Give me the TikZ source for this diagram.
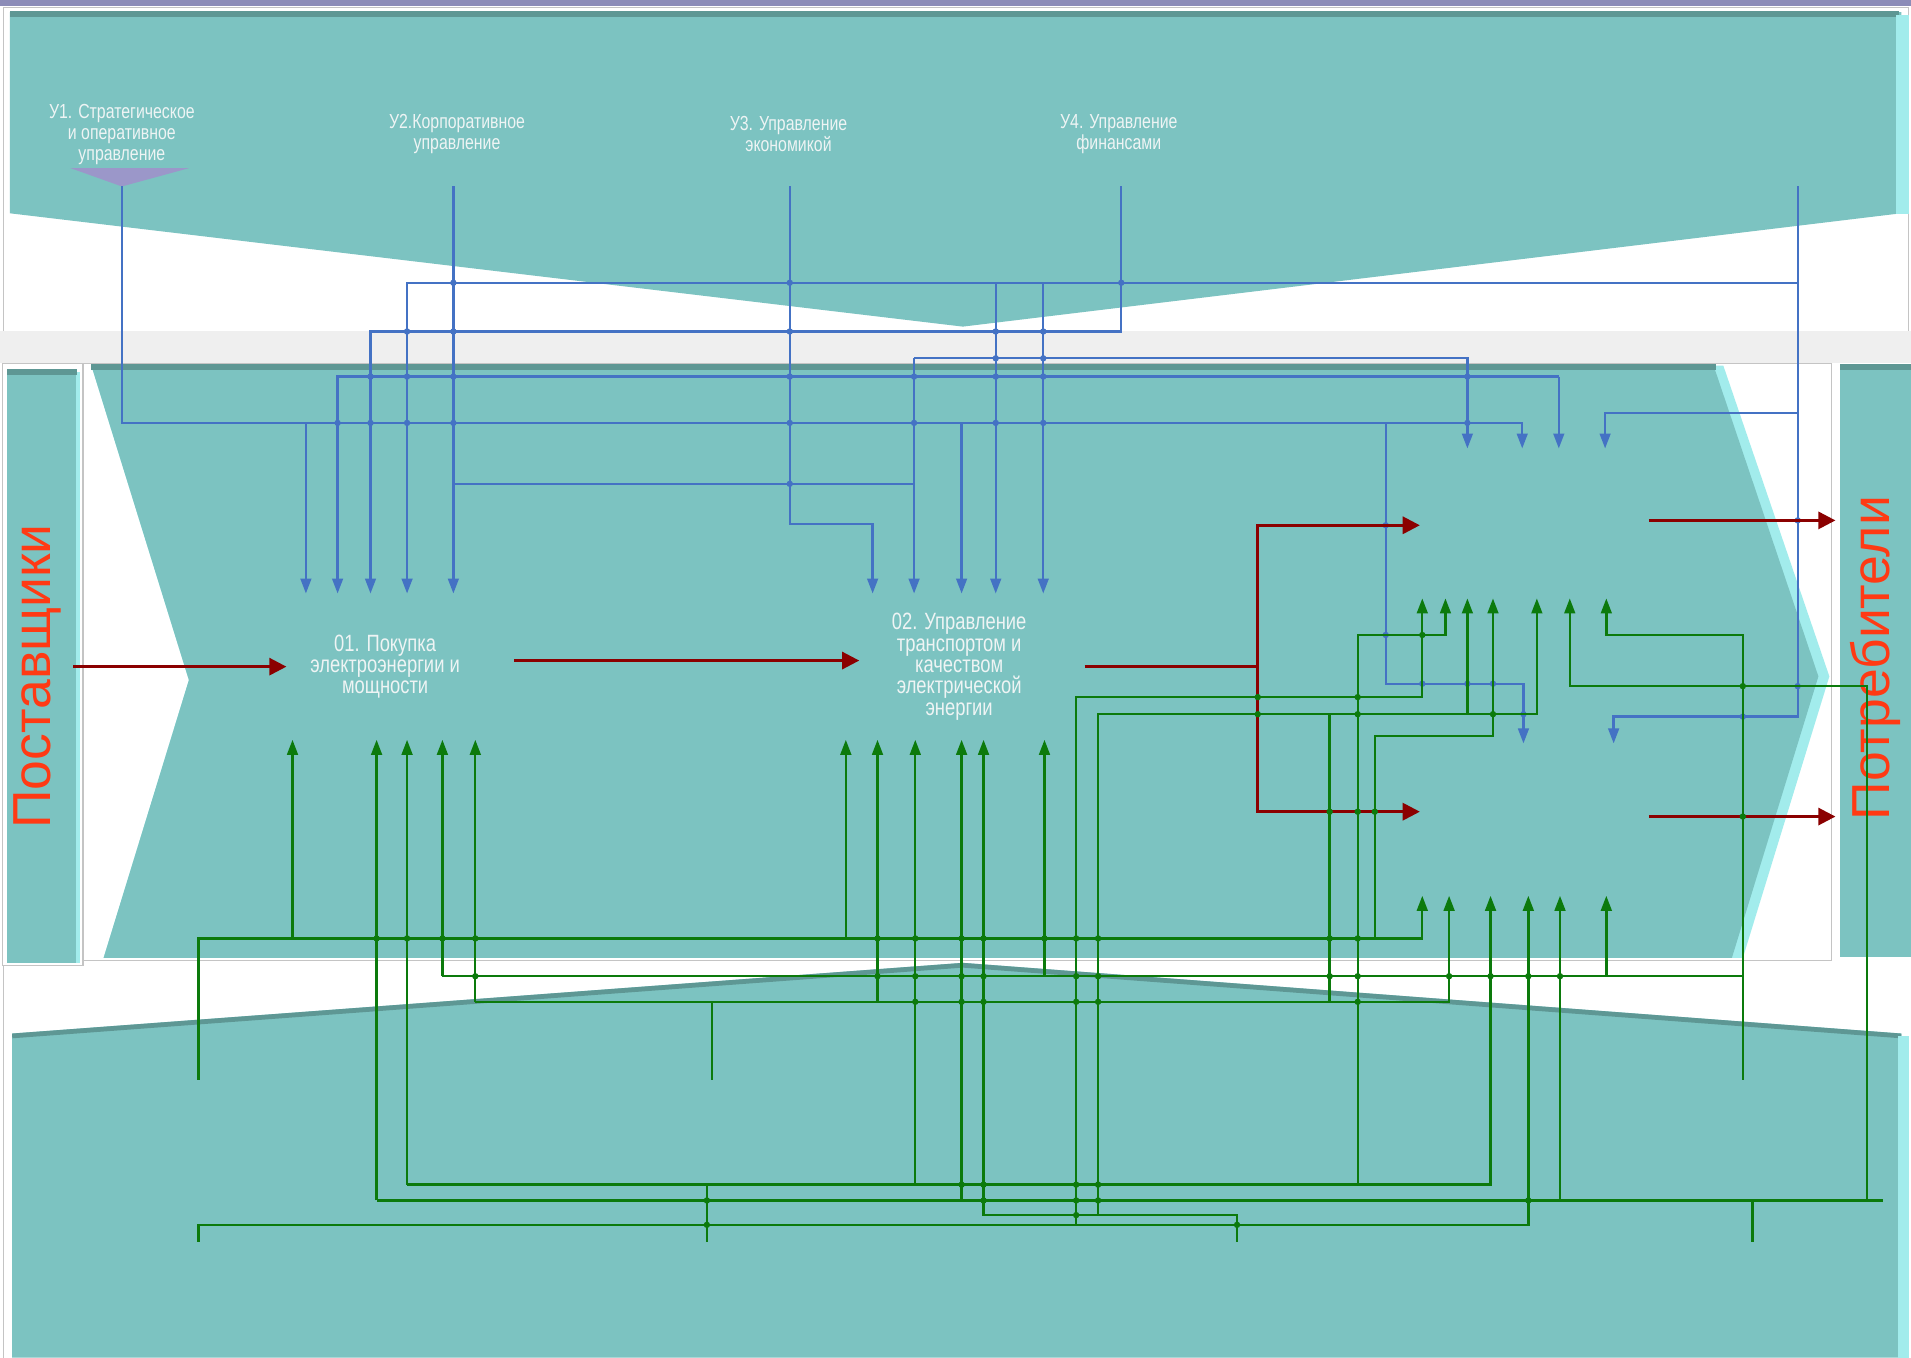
\documentclass[tikz,border=0pt]{standalone}
\usepackage{fontspec}
\setmainfont{Liberation Sans}
\newfontfamily\narrowfont[FakeStretch=0.78]{Liberation Sans}
\usepackage{tikz}
\usetikzlibrary{arrows.meta,calc}
\definecolor{bandFill}{HTML}{7CC3C1}
\definecolor{bandDark}{HTML}{5E9794}
\definecolor{bandLight}{HTML}{A2ECEC}
\definecolor{paneGray}{HTML}{EFEFEF}
\definecolor{frameGray}{HTML}{C4C4C4}
\definecolor{topBar}{HTML}{8C8CB8}
\definecolor{triPurple}{HTML}{9B97C9}
\definecolor{ctrlBlue}{HTML}{4472C4}
\definecolor{mechGreen}{HTML}{0C7A0C}
\definecolor{flowRed}{HTML}{8B0000}
\definecolor{labelText}{HTML}{EEF4F4}
\definecolor{sideText}{HTML}{FF3A14}
\tikzset{
  lineBlue/.style={draw=ctrlBlue, line width=1.1pt},
  arrowBlue/.style={lineBlue, -{Triangle[length=7pt,width=5pt]}},
  lineGreen/.style={draw=mechGreen, line width=1.1pt},
  arrowGreen/.style={lineGreen, -{Triangle[length=7pt,width=5pt]}},
  lineRed/.style={draw=flowRed, line width=1.3pt},
  arrowRed/.style={lineRed, -{Triangle[length=8pt,width=8pt]}},
  ctrlLabel/.style={
    font=\narrowfont\fontsize{9.5}{9.8}\selectfont, text=labelText,
    align=center, inner sep=0pt,
  },
  procLabel/.style={
    font=\narrowfont\fontsize{11}{10}\selectfont, text=labelText,
    align=center, inner sep=0pt,
  },
  sideLabel/.style={
    font=\fontsize{25}{30}\selectfont, text=sideText, rotate=90,
    inner sep=0pt,
  },
}

\begin{document}
\begin{tikzpicture}[x=0.02cm, y=-0.02cm]
\useasboundingbox (0,0) rectangle (1568,1114);

% panels
\fill[white] (0,0) rectangle (1568,1114);
\fill[topBar] (0,0) rectangle (1568,5);
\draw[frameGray, line width=0.6pt] (3,6) rectangle (1566,272);
\fill[paneGray] (0,272) rectangle (1568,298);
\draw[frameGray, line width=0.6pt] (2,298) rectangle (68,792);
\draw[frameGray, line width=0.6pt] (68,298) rectangle (1503,788);
\draw[frameGray, line width=0.6pt] (3,792) -- (3,1114);

% top band
\fill[bandFill] (8,10) -- (1560,10) -- (1560,175) -- (790,268) -- (8,175) -- cycle;
\fill[bandDark] (8,9) rectangle (1558,14);
\fill[bandLight] (1556,12) rectangle (1566,176);
\fill[triPurple] (58,138) -- (155,138) -- (100,153) -- cycle;

% middle band
\fill[bandFill] (6,305) rectangle (63,790);
\fill[bandLight] (62,305) rectangle (66,790);
\fill[bandDark] (6,303) rectangle (63,308);
\fill[bandLight] (75,300) -- (1414,300) -- (1501,555) -- (1430,786) -- (85,786) -- (155,558) -- cycle;
\fill[bandFill] (75,300) -- (1406,300) -- (1492,555) -- (1421,786) -- (85,786) -- (155,558) -- cycle;
\fill[bandDark] (75,299) rectangle (1408,304);
\fill[bandFill] (1510,300) rectangle (1568,785);
\fill[bandDark] (1510,299) rectangle (1568,304);

% bottom band
\fill[bandFill] (10,848) -- (790,790) -- (1560,848) -- (1560,1114) -- (10,1114) -- cycle;
\draw[bandDark, line width=2.2pt] (10,850) -- (790,792) -- (1560,850);
\fill[bandLight] (1557,850) rectangle (1566,1114);

% labels
\node[ctrlLabel] (u1) at (100,110) {У1. Стратегическое\\и оперативное\\управление};
\node[ctrlLabel] (u2) at (375,110) {У2.Корпоративное\\управление};
\node[ctrlLabel] (u3) at (647,110) {У3. Управление\\экономикой};
\node[ctrlLabel] (u4) at (918,110) {У4. Управление\\финансами};
\node[procLabel] (p01) at (316,547) {01. Покупка\\электроэнергии и\\мощности};
\node[procLabel] (p02) at (787,547) {02. Управление\\транспортом и\\качеством\\электрической\\энергии};
\node[sideLabel] (sup) at (31,555) {Поставщики};
\node[sideLabel] (cons) at (1539,540) {Потребители};

% named points
\coordinate (u1src) at (100,153);
\coordinate (u2src) at (372,153);
\coordinate (u3src) at (648,153);
\coordinate (u4src) at (920,153);
\coordinate (u5src) at (1475,153);
\coordinate (bj) at (1137,347);
\foreach \n/\x in {a/251,b/277,c/304,d/334,e/372} \coordinate (c01\n) at (\x,487);
\foreach \n/\x in {a/716,b/750,c/789,d/817,e/856} \coordinate (c02\n) at (\x,487);
\foreach \n/\x in {a/1204,b/1249,c/1279,d/1317} \coordinate (c03\n) at (\x,368);
\foreach \n/\x in {a/1250,b/1324} \coordinate (c04\n) at (\x,610);
\foreach \n/\x in {a/240,b/309,c/334,d/363,e/390} \coordinate (g01\n) at (\x,607);
\foreach \n/\x in {a/694,b/720,c/751,d/789,e/807,f/857} \coordinate (g02\n) at (\x,607);
\foreach \n/\x in {a/1167,b/1186,c/1204,d/1225,e/1261,f/1288,g/1318} \coordinate (g03\n) at (\x,491);
\foreach \n/\x in {a/1167,b/1189,c/1223,d/1254,e/1280,f/1318} \coordinate (g04\n) at (\x,735);
\foreach \y in {232,272,294,309,339,347,397,430,561,588} \coordinate (b\y) at (0,\y);
\foreach \y in {521,563,572,586,604,770,801,822,972,985,997,1005} \coordinate (k\y) at (0,\y);
\foreach \n/\x/\y in {1/163/886,2/584/886,3/580/1019,4/1430/886,5/1438/1019,6/1015/1019,7/163/1019}
  \coordinate (m\n) at (\x,\y);
\foreach \n/\x/\y in {1/1128/770,2/1091/822,3/1114/972,4/1532/985,5/883/1005,6/901/997}
  \coordinate (t\n) at (\x,\y);
\coordinate (e985) at (1545,985);

% controls
\draw[arrowBlue] (u1src) |- (c03b |- b347) -- (c03b);
\draw[arrowBlue] (u2src) -- (c01e);
\draw[arrowBlue] (u3src) |- (c02a |- b430) -- (c02a);
\draw[arrowBlue] (u4src) |- (c01c |- b272) -- (c01c);
\draw[arrowBlue] (u5src) |- (c04b |- b588) -- (c04b);
\draw[arrowBlue] (u5src |- b232) -| (c01d);
\draw[arrowBlue] (c02d |- b232) -- (c02d);
\draw[arrowBlue] (c02e |- b232) -- (c02e);
\draw[arrowBlue] (c02b |- b294) -| (c03a);
\draw[arrowBlue] (c02b |- b294) -- (c02b);
\draw[arrowBlue] (c03c |- b309) -| (c01b);
\draw[arrowBlue] (c03c |- b309) -- (c03c);
\draw[arrowBlue] (u5src |- b339) -| (c03d);
\draw[arrowBlue] (c01a |- b347) -- (c01a);
\draw[arrowBlue] (c02c |- b347) -- (c02c);
\draw[arrowBlue] (bj) |- (c04a |- b561) -- (c04a);
\draw[lineBlue] (u2src |- b397) -- (c02b |- b397);
\foreach \x/\y in {372/232,648/232,920/232,334/272,372/272,648/272,817/272,856/272,
  817/294,856/294,304/309,334/309,372/309,648/309,750/309,817/309,856/309,1204/309,
  277/347,304/347,334/347,372/347,648/347,750/347,817/347,856/347,1204/347,648/397,
  1137/431,1475/427,1167/561,1204/561,1225/561,1250/586,1137/521,1430/588,1475/563}
  \fill[ctrlBlue] (\x,\y) circle (1.5pt);

% flows
\coordinate (r1a) at (60,547);   \coordinate (r1b) at (235,547);
\coordinate (r2a) at (422,542);  \coordinate (r2b) at (705,542);
\coordinate (r3a) at (890,547);  \coordinate (rj) at (1032,547);
\coordinate (r3b) at (1165,431); \coordinate (r4b) at (1165,666);
\coordinate (r5a) at (1353,427); \coordinate (r5b) at (1506,427);
\coordinate (r6a) at (1353,670); \coordinate (r6b) at (1506,670);
\draw[arrowRed] (r1a) -- (r1b);
\draw[arrowRed] (r2a) -- (r2b);
\draw[lineRed] (r3a) -- (rj);
\draw[arrowRed] (rj) |- (r3b);
\draw[arrowRed] (rj) |- (r4b);
\draw[arrowRed] (r5a) -- (r5b);
\draw[arrowRed] (r6a) -- (r6b);

% mechanisms
\draw[arrowGreen] (m1) |- (g04a |- k770) -- (g04a);
\draw[arrowGreen] (g01a |- k770) -- (g01a);
\draw[arrowGreen] (g02a |- k770) -- (g02a);
\draw[arrowGreen] (t1) |- (g03d |- k604) -- (g03d);
\draw[arrowGreen] (g01d |- k801) -- (g01d);
\draw[arrowGreen] (g01d |- k801) -| (g02f);
\draw[lineGreen] (g02f |- k801) -- (m4 |- k801);
\draw[arrowGreen] (g04f |- k801) -- (g04f);
\draw[arrowGreen] (m4) |- (g03g |- k521) -- (g03g);
\draw[arrowGreen] (g01e |- k822) -- (g01e);
\draw[arrowGreen] (g01e |- k822) -| (g04b);
\draw[arrowGreen] (g02b |- k822) -- (g02b);
\draw[lineGreen] (m2) -- (m2 |- k822);
\draw[lineGreen] (t2) -- (t2 |- k586);
\draw[arrowGreen] (g01c |- k972) -- (g01c);
\draw[arrowGreen] (g01c |- k972) -| (g04c);
\draw[arrowGreen] (g02c |- k972) -- (g02c);
\draw[lineGreen] (m3) -- (m3 |- k972);
\draw[arrowGreen] (t3) |- (g03b |- k521) -- (g03b);
\draw[arrowGreen] (g01b |- k985) -- (g01b);
\draw[lineGreen] (g01b |- k985) -- (e985);
\draw[arrowGreen] (g02d |- k985) -- (g02d);
\draw[arrowGreen] (g04e |- k985) -- (g04e);
\draw[lineGreen] (m5) -- (m5 |- k985);
\draw[arrowGreen] (t4) |- (g03f |- k563) -- (g03f);
\draw[arrowGreen] (m6) |- (g02e |- k997) -- (g02e);
\draw[arrowGreen] (m7) |- (g04d |- k1005) -- (g04d);
\draw[arrowGreen] (t5) |- (g03a |- k572) -- (g03a);
\draw[arrowGreen] (t6) |- (g03e |- k586) -- (g03e);
\draw[arrowGreen] (g03c |- k586) -- (g03c);
\foreach \x/\y in {309/770,334/770,363/770,390/770,720/770,751/770,789/770,807/770,
  857/770,883/770,901/770,1091/770,1114/770,
  390/801,720/801,751/801,789/801,807/801,883/801,901/801,1091/801,1114/801,
  1189/801,1223/801,1254/801,1280/801,
  751/822,789/822,807/822,883/822,901/822,1114/822,
  789/972,807/972,883/972,901/972,580/985,807/985,883/985,901/985,1254/985,
  883/997,580/1005,1015/1005,1114/572,1032/572,1114/586,1225/586,1032/586,
  1167/521,1430/563,1091/666,1114/666,1128/666,1430/670}
  \fill[mechGreen] (\x,\y) circle (1.5pt);

\end{tikzpicture}
\end{document}
